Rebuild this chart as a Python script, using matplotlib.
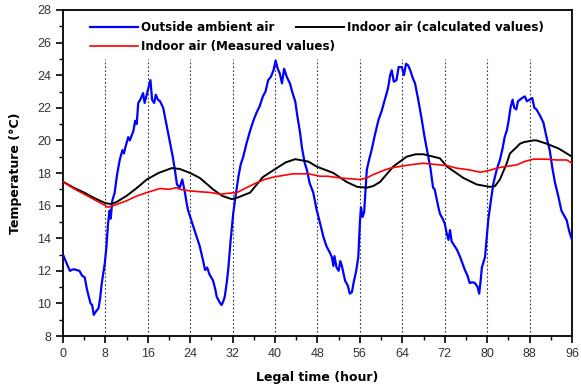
import matplotlib
matplotlib.use("Agg")
import matplotlib.pyplot as plt
from matplotlib.ticker import MultipleLocator
from matplotlib.legend import Legend

# ---- data ----
outside_t = [0, 0.5, 1.3, 2.0, 3.1, 3.6, 4.1, 4.5, 4.8, 5.2, 5.5, 5.8, 6.2, 6.7, 7.0, 7.3, 7.9, 8.2,
             8.5, 8.7, 8.8, 9.0, 9.3, 9.75, 10.2, 10.7, 11.2, 11.5, 11.7, 12.3, 12.6, 13.3, 13.6, 13.9,
             14.2, 14.6, 15.1, 15.4, 15.8, 16.2, 16.5, 16.8, 17.2, 17.5, 17.9, 18.3, 18.9, 19.5, 20.2,
             20.7, 21.1, 21.5, 22.0, 22.5, 23.0, 23.3, 23.6, 24.6, 25.3, 25.8, 26.3, 26.8, 27.2, 27.6,
             28.3, 28.7, 29.0, 29.5, 29.9, 30.2, 30.5, 30.9, 31.2, 31.6, 32.1, 32.6, 33.1, 33.5, 34.0,
             34.6, 35.3, 35.9, 36.5, 37.1, 37.7, 38.2, 38.7, 39.2, 39.7, 40.1, 40.5, 40.9, 41.3, 41.7,
             42.2, 42.8, 43.3, 43.8, 44.2, 44.7, 45.1, 45.6, 46.0, 46.5, 47.2, 47.8, 48.5, 49.1, 49.7,
             50.2, 50.7, 51.0, 51.2, 51.6, 52.0, 52.3, 52.6, 53.2, 53.7, 54.1, 54.5, 54.8, 55.3, 55.7,
             56.0, 56.2, 56.5, 56.8, 57.3, 57.8, 58.2, 58.8, 59.5, 60.1, 60.7, 61.3, 61.7, 62.0, 62.4,
             62.9, 63.3, 63.9, 64.3, 64.7, 65.1, 65.5, 66.0, 66.4, 67.0, 67.6, 68.2, 68.9, 69.3, 69.8,
             70.1, 70.8, 71.1, 71.6, 72.0, 72.3, 72.7, 73.0, 73.3, 73.9, 74.3, 74.9, 75.4, 75.8, 76.3,
             76.7, 77.2, 77.7, 78.2, 78.5, 78.8, 79.0, 79.6, 80.2, 80.7, 81.2, 81.8, 82.4, 82.9, 83.3,
             83.7, 84.0, 84.4, 84.8, 85.1, 85.5, 85.8, 86.2, 86.6, 87.1, 87.5, 88.0, 88.5, 88.9, 89.3,
             90.0, 90.6, 91.2, 91.8, 92.3, 92.8, 93.4, 94.0, 94.5, 95.0, 95.5, 96.0]
outside_T = [13.0, 12.6, 12.0, 12.1, 12.0, 11.7, 11.6, 10.9, 10.5, 10.0, 9.9, 9.3, 9.5, 9.7, 10.3, 11.2, 12.5, 13.5,
             14.9, 15.4, 15.7, 15.2, 16.3, 16.8, 17.9, 18.8, 19.4, 19.2, 19.5, 20.2, 20.0, 20.6, 21.2, 21.0,
             22.3, 22.5, 22.9, 22.3, 22.8, 23.3, 23.7, 22.5, 22.3, 22.8, 22.5, 22.4, 22.0, 21.0, 19.8,
             19.0, 18.2, 17.3, 17.1, 17.6, 16.8, 16.2, 15.7, 14.7, 14.0, 13.5, 12.8, 12.05, 12.2, 11.8,
             11.4, 10.9, 10.4, 10.1, 9.9, 10.1, 10.4, 11.3, 12.2, 13.8, 15.5, 16.7, 17.8, 18.5, 19.0,
             19.8, 20.6, 21.2, 21.7, 22.1, 22.7, 23.0, 23.7, 23.9, 24.3, 24.9, 24.4, 24.1, 23.5, 24.4,
             23.9, 23.5, 22.9, 22.4, 21.5, 20.5, 19.5, 18.6, 18.2, 17.4, 16.8, 15.8, 14.9, 14.1, 13.5,
             13.2, 12.85, 12.3, 12.9, 12.2, 12.0, 12.6, 12.3, 11.4, 11.1, 10.6, 10.7, 11.25, 12.0, 12.85,
             15.0, 15.9, 15.3, 15.6, 18.2, 18.9, 19.4, 20.3, 21.25, 21.8, 22.5, 23.2, 24.0, 24.3, 23.6,
             23.7, 24.5, 24.5, 24.0, 24.7, 24.6, 24.3, 23.8, 23.5, 22.5, 21.4, 20.2, 19.0, 18.3, 17.1,
             17.0, 15.9, 15.5, 15.2, 14.9, 14.4, 13.9, 14.5, 13.8, 13.5, 13.3, 12.85, 12.4, 12.05, 11.7,
             11.25, 11.3, 11.25, 11.0, 10.6, 11.5, 12.2, 12.85, 15.1, 16.3, 17.4, 18.2, 18.8, 19.5, 20.2,
             20.6, 21.1, 22.0, 22.5, 22.0, 21.9, 22.4, 22.5, 22.6, 22.7, 22.4, 22.5, 22.6, 22.0, 21.9,
             21.5, 21.1, 20.2, 19.4, 18.3, 17.4, 16.6, 15.7, 15.4, 15.1, 14.4, 13.9]

calc_t = [0, 2, 4, 6, 8, 9, 10, 12, 14, 15.8, 18, 20.5, 22, 24, 25.8, 28.3, 30, 31.8, 33, 35.3, 37.7,
          40.3, 42, 43.8, 46.3, 47.8, 51, 53.5, 55.5, 57.3, 58.5, 59.8, 62.3, 64.8, 66.5, 68, 71.1,
          72.4, 75.5, 78, 80.5, 81.5, 82.4, 83.7, 84.3, 85.6, 86.2, 87, 88.7, 89.3, 91.2, 93.5, 96]
calc_T = [17.47, 17.1, 16.8, 16.45, 16.15, 16.1, 16.2, 16.6, 17.1, 17.6, 18.0, 18.3, 18.25, 18.0, 17.7,
          17.0, 16.6, 16.4, 16.5, 16.8, 17.75, 18.3, 18.65, 18.85, 18.7, 18.4, 18.0, 17.45, 17.15, 17.1,
          17.2, 17.45, 18.4, 19.0, 19.15, 19.15, 18.9, 18.4, 17.7, 17.3, 17.15, 17.2, 17.6, 18.6, 19.2,
          19.6, 19.8, 19.9, 20.0, 20.0, 19.8, 19.5, 19.0]

meas_t = [0, 2, 4, 6, 8, 8.5, 9.5, 12, 14, 15.8, 18.3, 20, 21.4, 22, 24, 25.8, 28, 29.6, 31, 32.8,
          34, 36.5, 38, 39.7, 41.5, 43.4, 46.3, 48.5, 50, 52.2, 54, 56, 57.3, 58.5, 60, 61.7, 63.5,
          65.4, 67.9, 71, 72.5, 74.2, 76.5, 78.7, 80.3, 81.8, 83.5, 85.6, 87, 88.7, 91, 93.1, 95, 96]
meas_T = [17.47, 17.05, 16.7, 16.35, 16.0, 15.9, 16.0, 16.3, 16.6, 16.8, 17.05, 17.0, 17.1, 17.0, 16.9,
          16.85, 16.8, 16.7, 16.75, 16.8, 17.0, 17.4, 17.6, 17.75, 17.85, 17.95, 17.95, 17.8, 17.8,
          17.7, 17.65, 17.6, 17.7, 17.9, 18.1, 18.3, 18.4, 18.5, 18.6, 18.5, 18.45, 18.3, 18.2, 18.05,
          18.15, 18.3, 18.4, 18.5, 18.7, 18.85, 18.85, 18.8, 18.8, 18.6]

day_marks = [8, 16, 24, 32, 40, 48, 56, 64, 72, 80, 88]
x_ticks = [0, 8, 16, 24, 32, 40, 48, 56, 64, 72, 80, 88, 96]
y_ticks = [8, 10, 12, 14, 16, 18, 20, 22, 24, 26, 28]

# ---- figure ----
fig = plt.figure(figsize=(5.81, 3.89), dpi=100)
ax = fig.add_axes([0.1084, 0.1362, 0.8761, 0.8381])

ax.vlines(day_marks, 8, 25, colors='#333333', linestyles=(0, (1.5, 2)), linewidth=0.8, zorder=1)

l_out, = ax.plot(outside_t, outside_T, color='#0000ff', lw=1.6, label='Outside ambient air', zorder=3)
l_calc, = ax.plot(calc_t, calc_T, color='black', lw=1.4, label='Indoor air (calculated values)', zorder=4)
l_meas, = ax.plot(meas_t, meas_T, color='#ff0000', lw=1.2, label='Indoor air (Measured values)', zorder=5)

ax.set_xlim(0, 96)
ax.set_ylim(8, 28)
ax.set_xticks(x_ticks)
ax.set_yticks(y_ticks)
ax.xaxis.set_minor_locator(MultipleLocator(4))
ax.yaxis.set_minor_locator(MultipleLocator(1))
ax.tick_params(which='major', direction='out', length=5, width=1.2, labelsize=9,
               labelcolor='#333333', labelfontfamily='Liberation Sans')
ax.tick_params(which='minor', direction='out', length=3, width=1.0)
for s in ax.spines.values():
    s.set_linewidth(1.3)

ax.set_xlabel('Legal time (hour)', fontsize=9, fontweight='bold', labelpad=8)
ax.set_ylabel('Temperature (°C)', fontsize=9, fontweight='bold', labelpad=11)

# legend entries placed individually (Origin-style layout)
entries = [(l_out, (0.053, 0.946)), (l_meas, (0.053, 0.888)), (l_calc, (0.458, 0.946))]
for h, pos in entries:
    lg = Legend(ax, [h], [h.get_label()], loc='center left', bbox_to_anchor=pos,
                frameon=False, prop={'weight': 'bold', 'size': 8.6}, handlelength=4.0,
                handletextpad=0.3, borderpad=0, borderaxespad=0)
    ax.add_artist(lg)

fig.savefig('out.png', dpi=100)
